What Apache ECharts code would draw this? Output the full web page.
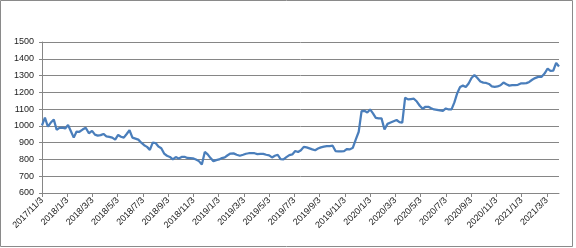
<!DOCTYPE html>
<html>
<head>
<meta charset="utf-8">
<script src="https://cdn.jsdelivr.net/npm/echarts@6/dist/echarts.min.js"></script>
<style>
html,body{margin:0;padding:0;background:#fff;}
#c{width:576px;height:248px;}
</style>
</head>
<body>
<div id="c"></div>
<script>
// Weekly series, first week 2017/11/3, one value per week
const startDate = [2017, 11, 3];
const weeklyValues = [
1003,1049,995,1020,1037,977,988,990,985,1005,
968,930,966,965,978,989,956,970,948,942,
945,952,938,935,930,918,946,935,930,952,
974,930,924,918,900,885,875,857,900,898,
877,867,835,822,815,800,814,806,815,816,
809,808,806,800,790,770,845,830,808,790,
796,800,808,812,825,835,836,828,822,828,
834,837,837,837,832,833,833,828,824,812,
822,828,802,800,814,826,830,850,844,855,
875,872,866,860,855,865,872,876,879,880,
882,850,848,848,850,862,860,870,920,965,
1088,1090,1080,1098,1075,1048,1045,1045,978,1012,
1020,1028,1035,1022,1019,1168,1158,1160,1162,1145,
1120,1102,1114,1114,1105,1098,1096,1092,1090,1104,
1098,1098,1140,1195,1232,1240,1232,1253,1285,1303,
1285,1265,1258,1256,1250,1236,1233,1235,1242,1258,
1248,1240,1243,1243,1245,1253,1253,1255,1262,1275,
1285,1292,1292,1312,1342,1328,1330,1375,1354
];
const xTickLabels = ['2017/11/3','2018/1/3','2018/3/3','2018/5/3','2018/7/3','2018/9/3','2018/11/3',
'2019/1/3','2019/3/3','2019/5/3','2019/7/3','2019/9/3','2019/11/3',
'2020/1/3','2020/3/3','2020/5/3','2020/7/3','2020/9/3','2020/11/3',
'2021/1/3','2021/3/3'];
const yMin = 600, yMax = 1500, yStep = 100;

// month index relative to 2017/11/3 (ticks every 2 months on the 3rd)
function monthIndex(dt){
  const y = dt.getFullYear(), m = dt.getMonth()+1, d = dt.getDate();
  const dim = new Date(y, m, 0).getDate();
  return (y-startDate[0])*12 + (m-startDate[1]) + (d-startDate[2])/dim;
}
const data = weeklyValues.map((v,i)=>{
  const dt = new Date(startDate[0], startDate[1]-1, startDate[2] + 7*i);
  const label = dt.getFullYear()+'/'+(dt.getMonth()+1)+'/'+dt.getDate();
  return [monthIndex(dt), v, label];
});
const tickVals = xTickLabels.map((_,i)=>i*2);
const xMax = data[data.length-1][0];

const chart = echarts.init(document.getElementById('c'), null, {renderer:'canvas'});
chart.setOption({
  animation:false,
  backgroundColor:'#fff',
  graphic:[{type:'rect', shape:{x:0.5,y:0.5,width:572,height:246}, style:{fill:'none',stroke:'#8a8a8a',lineWidth:1}, silent:true}],
  grid:{left:42, right:17, top:42, bottom:55, containLabel:false},
  xAxis:{
    type:'value', min:0, max:xMax,
    axisLine:{show:true, lineStyle:{color:'#868686', width:1}},
    axisTick:{show:true, length:4, lineStyle:{color:'#868686'}, customValues:tickVals},
    axisLabel:{rotate:45, fontSize:9, fontFamily:'Liberation Sans, Arial, sans-serif', color:'#222', margin:6,
      customValues:tickVals,
      formatter:(v)=>xTickLabels[Math.round(v/2)] || ''},
    splitLine:{show:false}
  },
  yAxis:{
    type:'value', min:yMin, max:yMax, interval:yStep,
    axisLine:{show:true, lineStyle:{color:'#868686', width:1}},
    axisTick:{show:true, length:3, lineStyle:{color:'#868686'}},
    axisLabel:{fontSize:9, fontFamily:'Liberation Sans, Arial, sans-serif', color:'#222', margin:8,
      formatter:(v)=>String(v)},
    splitLine:{show:true, lineStyle:{color:'#868686', width:1}}
  },
  series:[{
    type:'line', data:data, showSymbol:false, symbol:'none',
    lineStyle:{color:'#4a7ebb', width:2.25},
    emphasis:{disabled:true}
  }]
});
</script>
</body>
</html>
